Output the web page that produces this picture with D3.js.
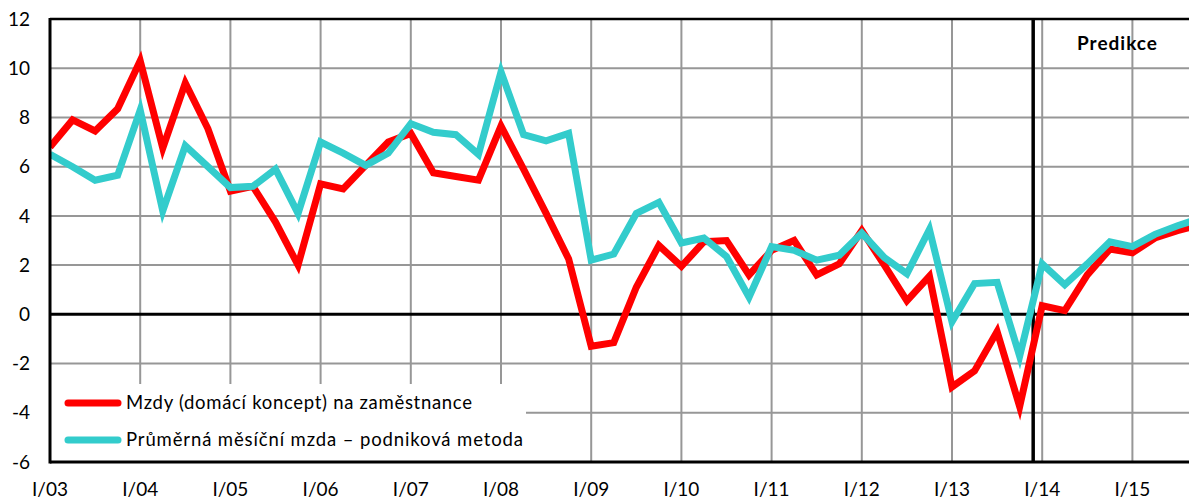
<!DOCTYPE html>
<html>
<head>
<meta charset="utf-8">
<script src="https://cdn.jsdelivr.net/npm/d3@7"></script>
<style>
  html, body { margin: 0; padding: 0; background: #fff; }
  svg { display: block; font-family: Lato, 'Open Sans', sans-serif; }
</style>
</head>
<body>
<svg id="chart" width="1189" height="499"></svg>
<script>
// quarters from I/03 to IV/15
const years = ['03', '04', '05', '06', '07', '08', '09', '10', '11', '12', '13', '14', '15']
const quarters = []
years.forEach(y => ['I', 'II', 'III', 'IV'].forEach(q => quarters.push(q + '/' + y)))

// Mzdy (domácí koncept) na zaměstnance
const wagesDomestic = [
  6.8, 7.9, 7.45, 8.35, 10.3, 6.75, 9.4, 7.55,
  5.0, 5.2, 3.75, 2.0, 5.3, 5.1, 6.05, 7.0,
  7.35, 5.75, 5.6, 5.45, 7.65, 5.9, 4.1, 2.25,
  -1.3, -1.15, 1.1, 2.8, 1.95, 2.95, 3.0, 1.6,
  2.6, 3.0, 1.6, 2.05, 3.4, 2.0, 0.55, 1.55,
  -2.95, -2.3, -0.7, -3.75, 0.35, 0.15, 1.6, 2.65,
  2.5, 3.1, 3.4, 3.65
]

// Průměrná měsíční mzda – podniková metoda
const wagesEnterprise = [
  6.5, 6.0, 5.45, 5.65, 8.3, 4.2, 6.85, 6.0,
  5.15, 5.2, 5.9, 4.1, 7.0, 6.55, 6.05, 6.55,
  7.75, 7.4, 7.3, 6.5, 9.85, 7.3, 7.05, 7.35,
  2.2, 2.45, 4.1, 4.55, 2.9, 3.1, 2.35, 0.7,
  2.75, 2.6, 2.2, 2.4, 3.3, 2.3, 1.65, 3.45,
  -0.3, 1.25, 1.3, -1.7, 2.05, 1.2, 2.05, 2.95,
  2.75, 3.25, 3.6, 3.9
]

const yTicks = [-6, -4, -2, 0, 2, 4, 6, 8, 10, 12]
const forecastStart = 43.6 // between IV/13 and I/14

const svg = d3.select('#chart')
const width = 1189
const margin = {top: 19, left: 50, bottom: 462}
const qStep = 22.55

const x = d3.scaleLinear()
  .domain([0, quarters.length - 1])
  .range([margin.left, margin.left + (quarters.length - 1) * qStep])

const y = d3.scaleLinear()
  .domain([-6, 12])
  .range([margin.bottom, margin.top])

const legendBox = {x0: margin.left, x1: 526, y0: 384, y1: margin.bottom}

svg.append('defs').append('clipPath').attr('id', 'plotClip')
  .append('rect')
  .attr('x', margin.left).attr('y', 0)
  .attr('width', width - margin.left).attr('height', margin.bottom)

const grid = svg.append('g').attr('clip-path', 'url(#plotClip)')

// horizontal gridlines
grid.selectAll('line.h')
  .data(yTicks.filter(d => d !== 0 && d !== -6 && d !== 12))
  .enter().append('line')
  .attr('x1', margin.left).attr('x2', width)
  .attr('y1', d => y(d)).attr('y2', d => y(d))
  .attr('stroke', '#979797').attr('stroke-width', 2)

// vertical gridlines at every first quarter
const yearIdx = d3.range(0, quarters.length, 4)
grid.selectAll('line.v')
  .data(yearIdx.filter(i => i > 0))
  .enter().append('line')
  .attr('x1', d => x(d)).attr('x2', d => x(d))
  .attr('y1', margin.top).attr('y2', margin.bottom)
  .attr('stroke', '#979797').attr('stroke-width', 2)

// forecast separator
grid.append('line')
  .attr('x1', x(forecastStart)).attr('x2', x(forecastStart))
  .attr('y1', margin.top).attr('y2', margin.bottom)
  .attr('stroke', '#000').attr('stroke-width', 3.5)

// zero line
grid.append('line')
  .attr('x1', margin.left).attr('x2', width)
  .attr('y1', y(0)).attr('y2', y(0))
  .attr('stroke', '#000').attr('stroke-width', 3)

// top border
svg.append('line')
  .attr('x1', margin.left).attr('x2', width)
  .attr('y1', y(12)).attr('y2', y(12))
  .attr('stroke', '#000').attr('stroke-width', 2.5)

// series lines
const line = d3.line()
  .x((d, i) => x(i))
  .y(d => y(d))

const series = [
  {name: 'Mzdy (domácí koncept) na zaměstnance', values: wagesDomestic, color: '#ff0000', len: 346},
  {name: 'Průměrná měsíční mzda – podniková metoda', values: wagesEnterprise, color: '#33cccc', len: 397}
]

const linesG = svg.append('g').attr('clip-path', 'url(#plotClip)')
series.forEach(s => {
  linesG.append('path')
    .datum(s.values)
    .attr('d', line)
    .attr('fill', 'none')
    .attr('stroke', s.color)
    .attr('stroke-width', 7)
    .attr('stroke-linejoin', 'miter')
})

// legend (white box covering the grid)
svg.append('rect')
  .attr('x', legendBox.x0).attr('y', legendBox.y0)
  .attr('width', legendBox.x1 - legendBox.x0).attr('height', legendBox.y1 - legendBox.y0)
  .attr('fill', '#fff')

const legend = svg.append('g')
series.forEach((s, i) => {
  const ly = 403 + i * 37
  legend.append('line')
    .attr('x1', 68).attr('x2', 118)
    .attr('y1', ly).attr('y2', ly)
    .attr('stroke', s.color).attr('stroke-width', 7)
    .attr('stroke-linecap', 'round')
  legend.append('text')
    .attr('x', 126).attr('y', ly)
    .attr('dy', '0.35em')
    .attr('font-size', 18.5)
    .attr('textLength', s.len)
    .attr('lengthAdjust', 'spacing')
    .attr('fill', '#000')
    .text(s.name)
})

// axes lines
svg.append('line')
  .attr('x1', margin.left).attr('x2', margin.left)
  .attr('y1', margin.top - 1).attr('y2', margin.bottom + 1.5)
  .attr('stroke', '#000').attr('stroke-width', 3)
svg.append('line')
  .attr('x1', margin.left).attr('x2', width)
  .attr('y1', margin.bottom).attr('y2', margin.bottom)
  .attr('stroke', '#000').attr('stroke-width', 3)

// y-axis labels
svg.append('g')
  .selectAll('text')
  .data(yTicks)
  .enter().append('text')
  .attr('x', 30)
  .attr('y', d => y(d))
  .attr('dy', '0.35em')
  .attr('text-anchor', 'end')
  .attr('font-size', 19)
  .attr('fill', '#000')
  .text(d => d)

// x-axis labels
svg.append('g')
  .selectAll('text')
  .data(yearIdx)
  .enter().append('text')
  .attr('x', d => x(d))
  .attr('y', 489)
  .attr('dy', '0.35em')
  .attr('text-anchor', 'middle')
  .attr('font-size', 19)
  .attr('fill', '#000')
  .text(d => quarters[d])

// forecast label
svg.append('text')
  .attr('x', 1077).attr('y', 43)
  .attr('dy', '0.35em')
  .attr('font-size', 19)
  .attr('font-weight', 'bold')
  .attr('textLength', 80)
  .attr('lengthAdjust', 'spacing')
  .attr('fill', '#000')
  .text('Predikce')
</script>
</body>
</html>
